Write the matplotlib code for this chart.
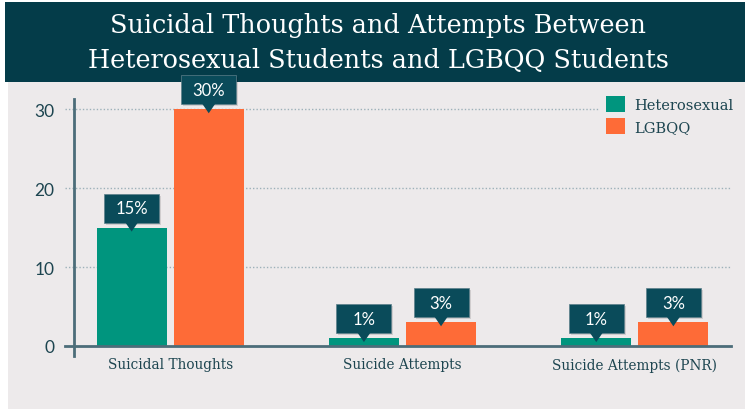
"""
Suicidal thoughts / attempts: heterosexual vs LGBQQ students
出力: out.png (745x410)
"""

import matplotlib
matplotlib.use("Agg")
import matplotlib.pyplot as plt
import matplotlib.patches as mpatches
import matplotlib.transforms as mtransforms
import numpy as np


categories = ["Suicidal Thoughts", "Suicide Attempts", "Suicide Attempts (PNR)"]
series_names = ["Heterosexual", "LGBQQ"]
hetero_vals = [15, 1, 1]
lgbqq_vals = [30, 3, 3]
y_ticks = [0, 10, 20, 30]

COLOR_HETERO = "#00957e"
COLOR_LGBQQ = "#fe6b37"
COLOR_BANNER = "#043c49"
COLOR_BOX = "#0a4b5a"
COLOR_PANEL = "#edeaeb"
COLOR_AXIS = "#4c6d79"
COLOR_TEXT = "#1d4550"
COLOR_GRID = "#9db1b9"

SERIF = ["DejaVu Serif"]
SANS = ["Lato", "DejaVu Sans"]

DPI = 100
fig = plt.figure(figsize=(7.45, 4.10), dpi=DPI)
fig.patch.set_facecolor("white")

W, H = 745, 410


def px_rect(x0, y0, x1, y1, color):
    # y in image pixel coords (top = 0)
    fig.patches.append(mpatches.Rectangle(
        (x0 / W, 1 - y1 / H), (x1 - x0) / W, (y1 - y0) / H,
        transform=fig.transFigure, facecolor=color, edgecolor="none", zorder=-5))


# 背景パネルとタイトル帯
px_rect(8, 83, 745, 410, COLOR_PANEL)
px_rect(5, 3, 745, 83, COLOR_BANNER)

fig.text(378 / W, 1 - 25 / H, "Suicidal Thoughts and Attempts Between",
         ha="center", va="center", color="white", fontsize=18.4, family=SERIF)
fig.text(378 / W, 1 - 61 / H, "Heterosexual Students and LGBQQ Students",
         ha="center", va="center", color="white", fontsize=18.4, family=SERIF)

# axes: x 74..731 px, y 100..357 px
ax_l, ax_r, ax_t, ax_b = 74, 731, 100, 357
ax = fig.add_axes([ax_l / W, 1 - ax_b / H, (ax_r - ax_l) / W, (ax_b - ax_t) / H])
ax.set_facecolor("none")
ax.set_zorder(1)

x = np.arange(len(categories))
bar_w = 70 / 232
off = 38.5 / 232

ax.set_xlim(-0.414, 2.414)
ax.set_ylim(-1.27, 31.3)

bars_h = ax.bar(x - off, hetero_vals, width=bar_w, color=COLOR_HETERO,
                label=series_names[0], zorder=3)
bars_l = ax.bar(x + off, lgbqq_vals, width=bar_w, color=COLOR_LGBQQ,
                label=series_names[1], zorder=3)

# グリッド（点線、軸の左にはみ出す）
blend = mtransforms.blended_transform_factory(ax.transAxes, ax.transData)
for t in y_ticks[1:]:
    ax.plot([-0.014, 1.0], [t, t], transform=blend, color=COLOR_GRID,
            linestyle=(0, (1, 1.5)), linewidth=1, clip_on=False, zorder=1)
ax.plot([-0.014, 1.0], [0, 0], transform=blend, color=COLOR_AXIS,
        linewidth=2, clip_on=False, zorder=4)

for s in ["top", "right", "bottom"]:
    ax.spines[s].set_visible(False)
ax.spines["left"].set_color(COLOR_AXIS)
ax.spines["left"].set_linewidth(2)

ax.set_yticks(y_ticks)
ax.set_yticklabels([str(t) for t in y_ticks], family=SANS, fontsize=12.5,
                   color=COLOR_TEXT)
ax.tick_params(axis="y", length=0, pad=14)
ax.set_xticks(x)
ax.set_xticklabels(categories, family=SERIF, fontsize=9.8, color=COLOR_TEXT)
ax.tick_params(axis="x", length=0, pad=1)


# 値ラベル（吹き出し）
def callout(xc, v, text):
    trans = fig.dpi_scale_trans + mtransforms.ScaledTranslation(xc, v, ax.transData)
    bw, bh, gap = 0.55, 0.29, 0.05
    shadow = mpatches.Rectangle((-bw / 2 + 0.02, gap - 0.02), bw, bh,
                                transform=trans, facecolor="black", alpha=0.12,
                                edgecolor="none", zorder=5, clip_on=False)
    box = mpatches.Rectangle((-bw / 2, gap), bw, bh, transform=trans,
                             facecolor=COLOR_BOX, edgecolor="#5c7f8a",
                             linewidth=0.5, zorder=6, clip_on=False)
    tri = mpatches.Polygon([(-0.065, gap + 0.005), (0.065, gap + 0.005), (0, -0.04)],
                           closed=True, transform=trans, facecolor=COLOR_BOX,
                           edgecolor="none", zorder=6, clip_on=False)
    for p in (shadow, box, tri):
        ax.add_patch(p)
    ax.text(0, gap + bh / 2, text, transform=trans, ha="center", va="center",
            color="white", fontsize=12, family=SANS, zorder=7, clip_on=False)


for xi, v in zip(x - off, hetero_vals):
    callout(xi, v, f"{v}%")
for xi, v in zip(x + off, lgbqq_vals):
    callout(xi, v, f"{v}%")

leg = fig.legend(handles=[bars_h, bars_l], loc="upper left",
                 bbox_to_anchor=(593 / W, 1 - 84 / H), frameon=True,
                 facecolor=COLOR_PANEL, edgecolor="none", framealpha=1,
                 prop={"family": SERIF, "size": 10.5}, handlelength=1.3,
                 handleheight=1.3, handletextpad=0.6, labelspacing=0.4,
                 borderpad=0.4)
for t in leg.get_texts():
    t.set_color(COLOR_TEXT)
leg.set_zorder(10)

fig.savefig("out.png", dpi=DPI)
